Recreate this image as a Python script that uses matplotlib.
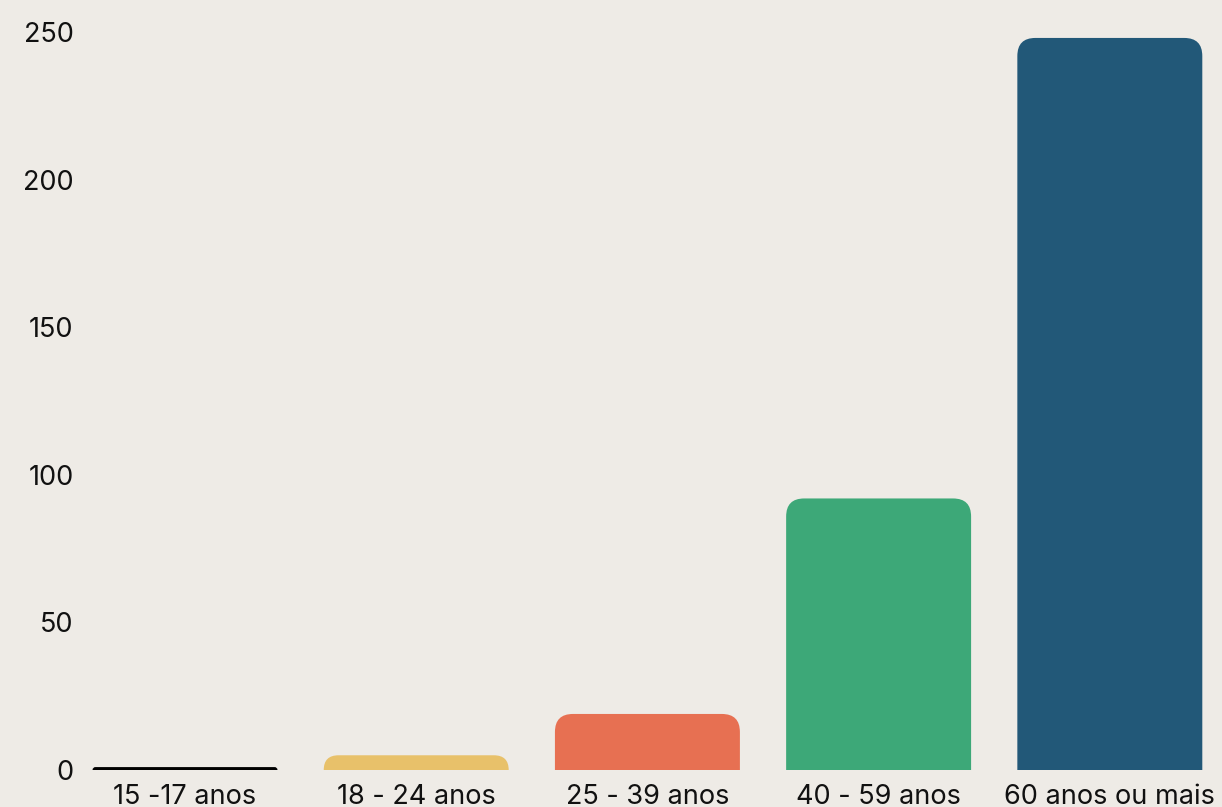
import matplotlib.pyplot as plt
from matplotlib.patches import FancyBboxPatch

categories = ["15 -17 anos", "18 - 24 anos", "25 - 39 anos", "40 - 59 anos", "60 anos ou mais"]
values = [1, 5, 19, 92, 248]
colors = ["#000000", "#E8C16A", "#E77052", "#3DA878", "#225878"]
yticks = [0, 50, 100, 150, 200, 250]

bg = "#EEEBE6"
plt.rcParams["font.family"] = ["Inter", "DejaVu Sans"]

fig = plt.figure(figsize=(12.22, 8.07), dpi=100, facecolor=bg)
ax = fig.add_axes([0.0568, 0.0458, 0.946, 0.9145], facecolor=bg)

x = list(range(len(categories)))
bars = ax.bar(x, values, width=0.8, color=colors)
ax.set_xlim(-0.5, 4.5)
ax.set_ylim(0, 250)

# rounded tops: swap each bar rectangle for a rounded box
r = 0.078
aspect = 78.4
for rect, c in zip(bars, colors):
    rect.set_visible(False)
    bx, w, h = rect.get_x(), rect.get_width(), rect.get_height()
    rr = min(r, h / aspect)
    extra = 2 * r * aspect
    p = FancyBboxPatch((bx, -extra), w, h + extra,
                       boxstyle=f"round,pad=0,rounding_size={rr}",
                       mutation_aspect=aspect, facecolor=c, edgecolor="none")
    ax.add_patch(p)

ax.set_xticks(x)
ax.set_xticklabels(categories)
ax.set_yticks(yticks)
for s in ax.spines.values():
    s.set_visible(False)
ax.tick_params(axis="both", length=0, labelsize=19.5, colors="#111111")
ax.tick_params(axis="x", pad=10)
ax.tick_params(axis="y", pad=-3)

fig.savefig("out.png", facecolor=bg)
